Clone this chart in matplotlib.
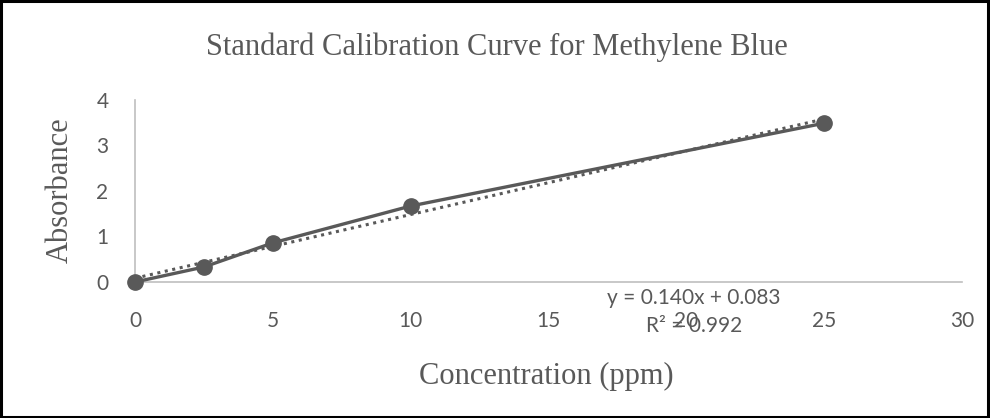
import numpy as np
import matplotlib.pyplot as plt
from matplotlib.patches import Rectangle

# data
conc = [0, 2.5, 5, 10, 25]
absorb = [0.0, 0.33, 0.86, 1.67, 3.49]
x_ticks = [0, 5, 10, 15, 20, 25, 30]
y_ticks = [0, 1, 2, 3, 4]
slope = 0.140
intercept = 0.083
r2 = 0.992

GRAY = "#595959"
AXIS_GRAY = "#BFBFBF"
SERIF = "Liberation Serif"
SANS = "Lato"

fig = plt.figure(figsize=(9.9, 4.18), dpi=100)
ax = fig.add_axes([135 / 990, 1 - 282 / 418, 827 / 990, 182 / 418])

# linear trendline (dotted) over data range
tx = np.array([conc[0], conc[-1]])
ax.plot(tx, slope * tx + intercept, linestyle=(0, (1, 1.5)), color=GRAY,
        linewidth=2.2, zorder=2)
ax.plot(conc, absorb, "-o", color=GRAY, linewidth=2.4, markersize=11,
        zorder=3, clip_on=False)

ax.set_xlim(0, 30)
ax.set_ylim(0, 4)
ax.set_xticks(x_ticks)
ax.set_yticks(y_ticks)
for s in ["top", "right"]:
    ax.spines[s].set_visible(False)
for s in ["left", "bottom"]:
    ax.spines[s].set_color(AXIS_GRAY)
    ax.spines[s].set_linewidth(1.2)
ax.tick_params(length=0, labelsize=15, labelcolor=GRAY)
ax.tick_params(axis="x", pad=21)
ax.tick_params(axis="y", pad=19)
for lb in ax.get_xticklabels() + ax.get_yticklabels():
    lb.set_fontfamily(SANS)

fig.text(0.502, 1 - 47 / 418, "Standard Calibration Curve for Methylene Blue",
         ha="center", va="center", fontsize=22, family=SERIF, color=GRAY)
fig.text(60 / 990, 1 - 190 / 418, "Absorbance", rotation=90, ha="center",
         va="center", fontsize=22, family=SERIF, color=GRAY)
fig.text(546 / 990, 1 - 376 / 418, "Concentration (ppm)", ha="center",
         va="center", fontsize=22, family=SERIF, color=GRAY)

# trendline label, sits over the "20" tick as in the source
fig.text(694 / 990, 1 - 298 / 418, f"y = {slope:.3f}x + {intercept:.3f}", ha="center",
         va="center", fontsize=15, family=SANS, color=GRAY)
fig.text(694 / 990, 1 - 326 / 418, f"R² = {r2:.3f}", ha="center",
         va="center", fontsize=15, family=SANS, color=GRAY)

fig.patches.append(Rectangle((0.001, 0.002), 0.997, 0.995, transform=fig.transFigure,
                             fill=False, edgecolor="black", linewidth=2.2))

fig.savefig("out.png", dpi=100)
